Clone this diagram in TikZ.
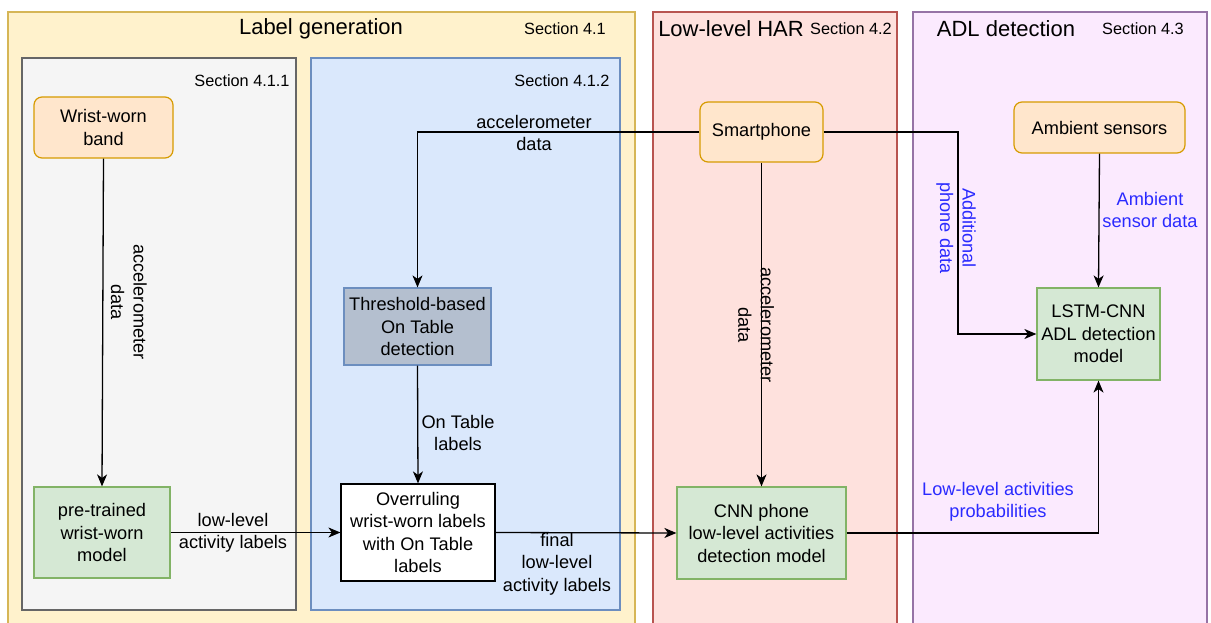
\documentclass[tikz,border=0pt]{standalone}
\usepackage{fontspec}
\setmainfont{Liberation Sans}
\usetikzlibrary{arrows.meta}
\definecolor{ylwF}{HTML}{FFF2CC}\definecolor{ylwD}{HTML}{D6B656}
\definecolor{gryF}{HTML}{F5F5F5}\definecolor{gryD}{HTML}{666666}
\definecolor{bluF}{HTML}{DAE8FC}\definecolor{bluD}{HTML}{6C8EBF}
\definecolor{redF}{HTML}{FEE1DD}\definecolor{redD}{HTML}{B85450}
\definecolor{purF}{HTML}{FBEAFE}\definecolor{purD}{HTML}{9673A6}
\definecolor{orgF}{HTML}{FFE6CC}\definecolor{orgD}{HTML}{D79B00}
\definecolor{grnF}{HTML}{D5E8D4}\definecolor{grnD}{HTML}{82B366}
\definecolor{thrF}{HTML}{B4BFCF}
\definecolor{lblue}{HTML}{2A2AFF}
\tikzset{
  container/.style={line width=1.2pt},
  boxtext/.style={font=\fontsize{18.2}{22.5}\selectfont, align=center, inner sep=0pt},
  orangebox/.style={boxtext, rounded corners=8pt, fill=orgF, draw=orgD, line width=1.2pt},
  greenbox/.style={boxtext, fill=grnF, draw=grnD, line width=1.2pt},
  title/.style={font=\fontsize{22}{25}\selectfont},
  sect/.style={font=\fontsize{16.3}{18}\selectfont},
  conn/.style={line width=1.3pt, -{Stealth[length=12pt,width=10pt,inset=3.5pt]}},
  lbl/.style={font=\fontsize{18.2}{22.5}\selectfont, align=center, inner sep=0pt},
  blbl/.style={lbl, text=lblue},
}
\begin{document}
\begin{tikzpicture}[x=1pt,y=-1pt]
\useasboundingbox (0,0) rectangle (1211,623);
% containers
\path[container, fill=ylwF, draw=ylwD] (8,12) rectangle (635,630);
\path[container, fill=gryF, draw=gryD] (22,58) rectangle (296,610);
\path[container, fill=bluF, draw=bluD] (311,58) rectangle (620,610);
\path[container, fill=redF, draw=redD] (653,12) rectangle (897,630);
\path[container, fill=purF, draw=purD] (913,12) rectangle (1207,630);
\node[title] (t1) at (321,29) {Label generation};
\node[sect] (s1) at (565,29) {Section 4.1};
\node[sect] (s11) at (242,81) {Section 4.1.1};
\node[sect] (s12) at (562,81) {Section 4.1.2};
\node[title] (t2) at (731,29) {Low-level HAR};
\node[sect] (s2) at (851,29) {Section 4.2};
\node[title] (t3) at (1006,29) {ADL detection};
\node[sect] (s3) at (1143,29) {Section 4.3};
% nodes
\node[orangebox, minimum width=139pt, minimum height=61pt] (band) at (103.5,127.5) {Wrist-worn\\band};
\node[greenbox, minimum width=136pt, minimum height=91pt] (pre) at (102,532.5) {pre-trained\\wrist-worn\\model};
\node[boxtext, fill=thrF, draw=bluD, line width=1.2pt, minimum width=147pt, minimum height=77pt] (thr) at (417.5,326.5) {Threshold-based\\On Table\\detection};
\node[boxtext, fill=white, draw=black, line width=1.2pt, minimum width=154pt, minimum height=97pt] (over) at (418,532.5) {Overruling\\wrist-worn labels\\with On Table\\labels};
\node[orangebox, minimum width=123pt, minimum height=60pt] (phone) at (761.5,132) {Smartphone};
\node[greenbox, minimum width=169pt, minimum height=92pt] (cnn) at (761.5,533) {CNN phone\\low-level activities\\detection model};
\node[orangebox, minimum width=171pt, minimum height=51pt] (amb) at (1099.5,127.5) {Ambient sensors};
\node[greenbox, minimum width=123pt, minimum height=92pt] (lstm) at (1098.5,334) {LSTM-CNN\\ADL detection\\model};
% connectors
\draw[conn] (band.south) -- (pre.north);
\node[lbl, rotate=-90] (l1) at (129,302) {accelerometer\\data};
\draw[conn] (pre.east) -- (over.west);
\node[lbl] (l2) at (233,533) {low-level\\activity labels};
\draw[conn] (phone.west) -| (thr.north);
\node[lbl] (l3) at (534,133) {accelerometer\\data};
\draw[conn] (thr.south) -- (over.north);
\node[lbl] (l4) at (458,433) {On Table\\labels};
\draw[conn] (over.east) -- (cnn.west);
\node[lbl] (l5) at (557,564) {final\\low-level\\activity labels};
\draw[conn] (phone.south) -- (cnn.north);
\node[lbl, rotate=-90] (l6) at (756,325) {accelerometer\\data};
\coordinate (c1) at (958,132);
\draw[conn] (phone.east) -- (c1) |- (lstm.west);
\node[blbl, rotate=-90] (l7) at (956,228) {Additional\\phone data};
\draw[conn] (amb.south) -- (lstm.north);
\node[blbl] (l8) at (1150,210) {Ambient\\sensor data};
\draw[conn] (cnn.east) -| (lstm.south);
\node[blbl] (l9) at (998,502) {Low-level activities\\probabilities};
\end{tikzpicture}
\end{document}
